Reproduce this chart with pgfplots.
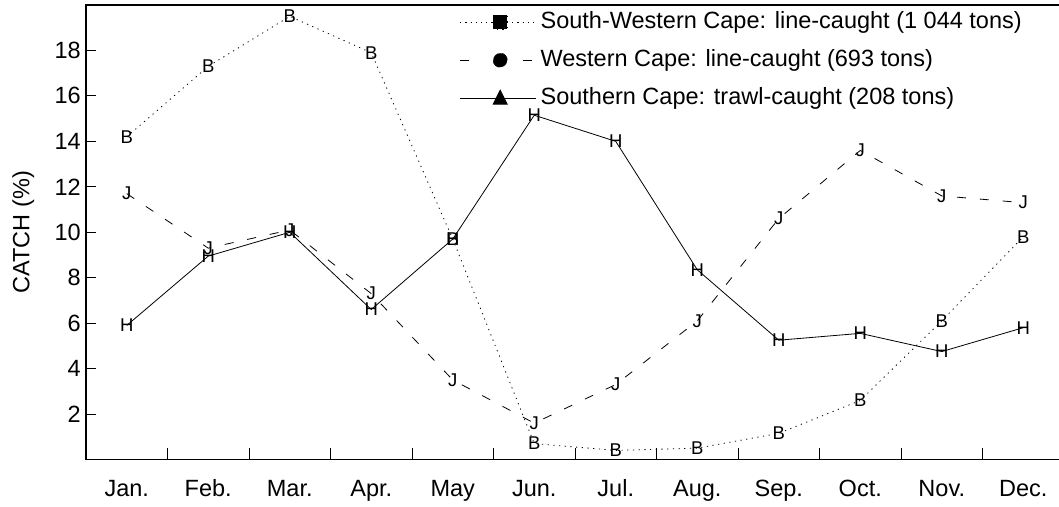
\documentclass[border=0pt]{standalone}
\usepackage{fontspec}
\setmainfont{Liberation Sans}
\usepackage{pgfplots}
\pgfplotsset{compat=1.18}
\begin{document}
\begin{tikzpicture}[x=1pt,y=1pt]
\useasboundingbox (0,0) rectangle (1059,506);
\begin{axis}[
    at={(86pt,46.5pt)}, anchor=south west,
    scale only axis,
    width=978pt, height=454.5pt,
    xmin=-0.5, xmax=11.5,
    ymin=0, ymax=20,
    axis line style={line width=1.2pt},
    xtick={0,...,11},
    xticklabels={Jan.,Feb.,Mar.,Apr.,May,Jun.,Jul.,Aug.,Sep.,Oct.,Nov.,Dec.},
    minor xtick={0.5,1.5,...,10.5},
    ytick={2,4,...,18},
    tick align=inside,
    xtick pos=bottom, ytick pos=left,
    major x tick style={draw=none},
    major tick length=10pt, minor tick length=11pt,
    tick style={line width=0.8pt, black},
    /pgf/number format/assume math mode=true,
    tick label style={font=\fontsize{23.5}{27}\selectfont},
    xticklabel style={anchor=base, yshift=-37pt},
    yticklabel style={inner sep=0pt, xshift=-5pt},
    ylabel={CATCH (\%)},
    ylabel style={font=\fontsize{23.5}{27}\selectfont, at={(axis description cs:-0.064,0.5)}, anchor=center},
    legend style={at={(axis description cs:0.382,1)}, anchor=north west, yshift=-2pt,
        draw=none, fill=none, inner sep=0pt, row sep=8pt,
        font=\fontsize{23.5}{27}\selectfont,
        nodes={inner sep=4pt, text height=17pt, text depth=5pt}},
    legend cell align=left,
]

% South-Western Cape: line-caught
\addplot[black, line width=0.8pt, dash pattern=on 1.2pt off 4.5pt,
    mark=text, text mark={B}, text mark as node=true,
    text mark style={font=\fontsize{18.5}{18.5}\selectfont, inner sep=0pt},
    legend image code/.code={
        \draw[line width=0.8pt, dash pattern=on 1.2pt off 4pt] (0pt,0pt) -- (76pt,0pt);
        \fill (33pt,-7pt) rectangle (47pt,7pt);}]
coordinates {(0,14.2) (1,17.3) (2,19.5) (3,17.9) (4,9.7) (5,0.7)
             (6,0.4) (7,0.5) (8,1.15) (9,2.6) (10,6.1) (11,9.8)};
\addlegendentry{South-Western Cape: line-caught (1 044 tons)}

% Western Cape: line-caught
\addplot[black, line width=0.8pt, dash pattern=on 9pt off 14pt,
    mark=text, text mark={J}, text mark as node=true,
    text mark style={font=\fontsize{18.5}{18.5}\selectfont, inner sep=0pt},
    legend image code/.code={
        \draw[line width=0.8pt] (0pt,0pt) -- (13pt,0pt);
        \draw[line width=0.8pt] (63pt,0pt) -- (76pt,0pt);
        \fill (40pt,0pt) circle (7pt);}]
coordinates {(0,11.7) (1,9.3) (2,10.1) (3,7.3) (4,3.5) (5,1.6)
             (6,3.3) (7,6.1) (8,10.6) (9,13.6) (10,11.6) (11,11.3)};
\addlegendentry{Western Cape: line-caught (693 tons)}

% Southern Cape: trawl-caught
\addplot[black, line width=0.8pt,
    mark=text, text mark={H}, text mark as node=true,
    text mark style={font=\fontsize{18.5}{18.5}\selectfont, inner sep=0pt},
    legend image code/.code={
        \draw[line width=0.8pt] (0pt,0pt) -- (76pt,0pt);
        \fill (33pt,-6pt) -- (47pt,-6pt) -- (40pt,8pt) -- cycle;}]
coordinates {(0,5.9) (1,8.95) (2,10.0) (3,6.6) (4,9.7) (5,15.15)
             (6,14.0) (7,8.35) (8,5.25) (9,5.55) (10,4.75) (11,5.8)};
\addlegendentry{Southern Cape: trawl-caught (208 tons)}

\end{axis}
\end{tikzpicture}
\end{document}
